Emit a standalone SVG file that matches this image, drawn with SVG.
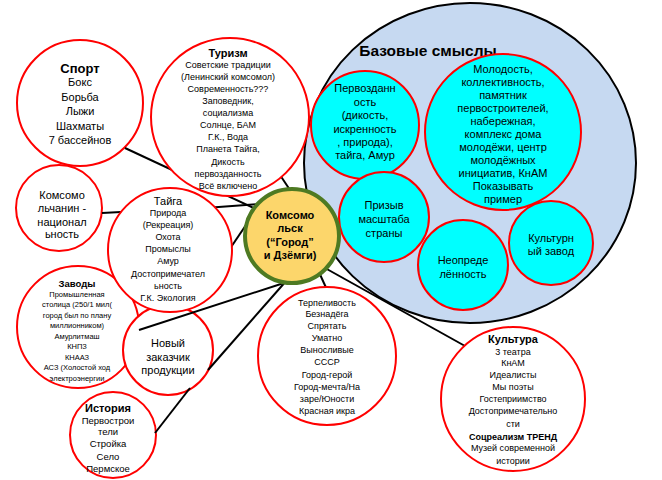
<svg xmlns="http://www.w3.org/2000/svg" width="662" height="480" viewBox="0 0 662 480">
<style>
text{font-family:"Liberation Sans",Arial,sans-serif;text-anchor:middle;fill:#000}
.n{fill:#fff;stroke:#f00;stroke-width:2}
.c{fill:#0ff;stroke:#f00;stroke-width:2}
.b{font-weight:bold}
.ln{stroke:#000;stroke-width:2;fill:none}
</style>
<rect width="662" height="480" fill="#fff"/>
<g id="sport">
<circle class="n" cx="80" cy="103" r="63"/>
<text x="80" y="73" class="b" font-size="13">Спорт</text>
<g font-size="11"><text x="80" y="86">Бокс</text><text x="80" y="101">Борьба</text><text x="80" y="115">Лыжи</text><text x="80" y="130">Шахматы</text><text x="80" y="144">7 бассейнов</text></g>
</g>
<g id="komsomolchanin">
<circle class="n" cx="59" cy="208" r="43"/>
<g font-size="11"><text x="62" y="199">Комсомо</text><text x="62" y="212">льчанин -</text><text x="62" y="226">национал</text><text x="62" y="238">ьность</text></g>
</g>
<g id="zavody">
<circle class="n" cx="78" cy="327" r="61"/>
<text x="77" y="287" class="b" font-size="9.5">Заводы</text>
<g font-size="7.5"><text x="77" y="297">Промышленная</text><text x="77" y="307">столица (250/1 мил(</text><text x="77" y="318">город был по плану</text><text x="77" y="328">миллионником)</text><text x="77" y="339">Амурлитмаш</text><text x="77" y="349">КНПЗ</text><text x="77" y="360">КНААЗ</text><text x="77" y="370">АСЗ (Холостой ход</text><text x="77" y="381">электроэнергии</text></g>
</g>
<g id="novy-zakazchik">
<circle class="n" cx="168" cy="350" r="45"/>
<g font-size="11"><text x="168" y="347">Новый</text><text x="168" y="361">заказчик</text><text x="168" y="374">продукции</text></g>
</g>
<g id="istoriya">
<circle class="n" cx="113" cy="435" r="43"/>
<text x="108" y="412" class="b" font-size="11">История</text>
<g font-size="9.5"><text x="108" y="424">Первострои</text><text x="108" y="435">тели</text><text x="108" y="447">Стройка</text><text x="108" y="460">Село</text><text x="108" y="472">Пермское</text></g>
</g>
<g id="connectors">
<line class="ln" x1="125" y1="148" x2="256" y2="209"/>
<line class="ln" x1="102" y1="213" x2="121" y2="212"/>
<line class="ln" x1="205" y1="208" x2="260" y2="204"/>
<line class="ln" x1="225" y1="256" x2="248" y2="222"/>
<line class="ln" x1="139" y1="330" x2="287" y2="282"/>
<line class="ln" x1="208" y1="370" x2="287" y2="280"/>
<line class="ln" x1="155" y1="433" x2="190" y2="388"/>
<line class="ln" x1="278" y1="172" x2="292" y2="193"/>
<line class="ln" x1="318" y1="270" x2="328" y2="292"/>
<line class="ln" x1="325" y1="268" x2="465" y2="346"/>
</g>
<g id="base">
<ellipse cx="470" cy="163" rx="166" ry="160" fill="#c6d9f1" stroke="#000" stroke-width="2"/>
<text x="428" y="56" class="b" font-size="15.5">Базовые смыслы</text>
</g>
<g id="pervozdannost">
<circle class="c" cx="365" cy="125" r="54"/>
<g font-size="11"><text x="365" y="92">Первозданн</text><text x="365" y="106">ость</text><text x="365" y="119">(дикость,</text><text x="365" y="133">искренность</text><text x="365" y="146">, природа),</text><text x="365" y="159">тайга, Амур</text></g>
</g>
<g id="molodost">
<circle class="c" cx="503" cy="132" r="78"/>
<g font-size="11"><text x="503" y="73">Молодость,</text><text x="503" y="86">коллективность,</text><text x="503" y="99">памятник</text><text x="503" y="112">первостроителей,</text><text x="503" y="125">набережная,</text><text x="503" y="138">комплекс дома</text><text x="503" y="151">молодёжи, центр</text><text x="503" y="164">молодёжных</text><text x="503" y="177">инициатив, КнАМ</text><text x="503" y="190">Показывать</text><text x="503" y="203">пример</text></g>
</g>
<g id="prizyv">
<circle class="c" cx="384" cy="217" r="45"/>
<g font-size="11"><text x="384" y="209">Призыв</text><text x="384" y="223">масштаба</text><text x="384" y="237">страны</text></g>
</g>
<g id="neopredelennost">
<circle class="c" cx="463" cy="265" r="45"/>
<g font-size="11"><text x="463" y="264">Неопреде</text><text x="463" y="278">лённость</text></g>
</g>
<g id="kulturny-zavod">
<circle class="c" cx="551" cy="243" r="42"/>
<g font-size="11"><text x="551" y="242">Культурн</text><text x="551" y="255">ый завод</text></g>
</g>
<g id="turizm">
<circle class="n" cx="230" cy="117" r="79"/>
<text x="228" y="57" class="b" font-size="11">Туризм</text>
<g font-size="9"><text x="228" y="68">Советские традиции</text><text x="228" y="80">(Ленинский комсомол)</text><text x="228" y="92">Современность???</text><text x="228" y="104">Заповедник,</text><text x="228" y="116">социализма</text><text x="228" y="128">Солнце, БАМ</text><text x="228" y="140">Г.К., Вода</text><text x="228" y="152">Планета Тайга,</text><text x="228" y="165">Дикость</text><text x="228" y="177">первозданность</text><text x="228" y="189">Всё включено</text></g>
</g>
<g id="taiga">
<circle class="n" cx="170" cy="250" r="62"/>
<text x="168" y="205" font-size="11">Тайга</text>
<g font-size="9"><text x="168" y="216">Природа</text><text x="168" y="228">(Рекреация)</text><text x="168" y="240">Охота</text><text x="168" y="252">Промыслы</text><text x="168" y="264">Амур</text><text x="168" y="277">Достопримечател</text><text x="168" y="289">ьность</text><text x="168" y="301">Г.К. Экология</text></g>
</g>
<g id="komsomolsk">
<circle cx="292" cy="236" r="47" fill="#fcd66b" stroke="#4e7a22" stroke-width="4"/>
<g class="b" font-size="11"><text x="290" y="219">Комсомо</text><text x="290" y="232">льск</text><text x="290" y="246">(“Город”</text><text x="290" y="259">и Дзёмги)</text></g>
</g>
<g id="terpelivost">
<circle class="n" cx="327" cy="356" r="69"/>
<g font-size="9"><text x="327" y="306">Терпеливость</text><text x="327" y="317">Безнадёга</text><text x="327" y="329">Спрятать</text><text x="327" y="341">Уматно</text><text x="327" y="353">Выносливые</text><text x="327" y="365">СССР</text><text x="327" y="378">Город-герой</text><text x="327" y="390">Город-мечта/На</text><text x="327" y="402">заре/Юности</text><text x="327" y="414">Красная икра</text></g>
</g>
<g id="kultura">
<circle class="n" cx="513" cy="399" r="72"/>
<text x="513" y="343" class="b" font-size="11">Культура</text>
<g font-size="9"><text x="513" y="355">3 театра</text><text x="513" y="366">КнАМ</text><text x="513" y="378">Идеалисты</text><text x="513" y="390">Мы поэты</text><text x="513" y="402">Гостеприимство</text><text x="513" y="414">Достопримечательно</text><text x="513" y="427">сти</text><text x="513" y="440" class="b">Соцреализм ТРЕНД</text><text x="513" y="451">Музей современной</text><text x="513" y="464">истории</text></g>
</g>
</svg>
